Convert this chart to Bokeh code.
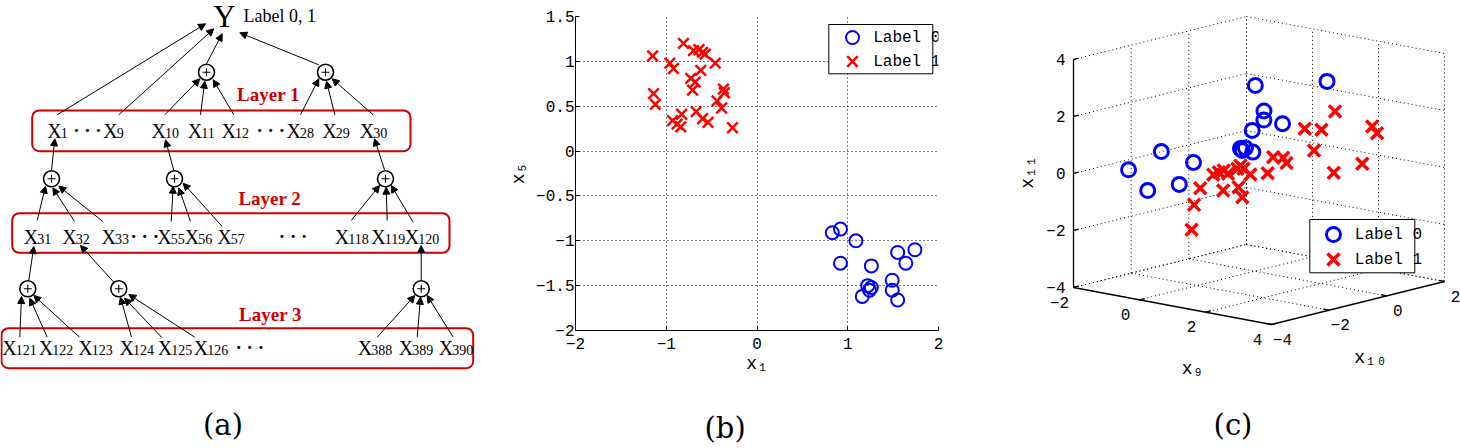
import numpy as np
from bokeh.plotting import figure
from bokeh.layouts import row
from bokeh.models import (Range1d, FixedTicker, ColumnDataSource, Arrow, NormalHead,
                          BoxAnnotation, Label, LabelSet, Title)
from bokeh.embed import file_html
from bokeh.resources import INLINE
from bokeh.core.properties import value

# ------------------------------------------------------------------ data
# panel (b): x1 vs x5
B_LABEL0_X1 = [0.83, 0.92, 1.09, 0.92, 1.55, 1.74, 1.64, 1.26, 1.49, 1.49, 1.55, 1.22, 1.26, 1.24, 1.16]
B_LABEL0_X5 = [-0.91, -0.87, -1.00, -1.25, -1.13, -1.10, -1.25, -1.28, -1.44, -1.55, -1.66, -1.50, -1.52, -1.55, -1.62]
B_LABEL1_X1 = [-1.15, -0.81, -0.96, -0.92, -0.70, -0.64, -0.60, -0.57, -0.46, -0.62, -0.73, -0.68, -0.71, -1.14,
               -1.12, -0.37, -0.36, -0.44, -0.39, -0.93, -0.83, -0.84, -0.88, -0.67, -0.60, -0.54, -0.27]
B_LABEL1_X5 = [1.06, 1.20, 0.98, 0.92, 1.12, 1.13, 1.10, 1.08, 0.98, 0.90, 0.81, 0.77, 0.68, 0.64,
               0.52, 0.69, 0.65, 0.56, 0.48, 0.34, 0.41, 0.27, 0.30, 0.44, 0.36, 0.32, 0.26]
B_XTICKS = [-2, -1, 0, 1, 2]
B_XTICK_LABELS = ["\u22122", "\u22121", "0", "1", "2"]
B_YTICKS = [-2, -1.5, -1, -0.5, 0, 0.5, 1, 1.5]
B_YTICK_LABELS = ["\u22122", "\u22121.5", "\u22121", "\u22120.5", "0", "0.5", "1", "1.5"]
B_XLABEL = "x\u2081"
B_YLABEL = "x\u2085"

# panel (c): x9, x10, x11
C_LABEL0_X9 = [-0.69, -0.38, -0.16, 0.13, 0.36, 1.36, 2.52, 1.50, 1.48, 1.80, 1.31, 1.12, 1.20, 1.32, 1.15]
C_LABEL0_X10 = [-3.59, -3.28, -3.06, -2.77, -2.54, -1.54, -0.38, -1.40, -1.38, -1.10, -1.59, -1.78, -1.70, -1.58, -1.75]
C_LABEL0_X11 = [0.31, -0.43, 0.93, -0.23, 0.53, 3.20, 3.30, 2.30, 1.97, 1.84, 1.62, 0.99, 1.01, 0.86, 0.92]
C_LABEL1_X9 = [-0.37, -0.33, -0.23, -0.02, 0.07, 0.15, 0.22, 0.14, 0.37, 0.42, 0.47, 0.39, 0.45,
               0.58, 0.86, 0.95, 1.11, 1.17, 1.46, 1.73, 1.95, 1.61, 1.93, 2.39, 2.55, 2.63]
C_LABEL1_X10 = [-1.77, -1.73, -1.63, -1.42, -1.33, -1.25, -1.18, -1.26, -1.03, -0.98, -0.93, -1.01, -0.95,
                -0.82, -0.54, -0.45, -0.29, -0.24, 0.06, 0.33, 0.55, 0.21, 0.53, 0.99, 1.15, 1.23]
C_LABEL1_X11 = [-2.18, -1.31, -0.73, -0.26, -0.18, -0.12, -0.24, -0.82, -0.07, 0.04, -0.07, -0.72, -1.07,
                -0.28, -0.24, 0.32, 0.29, 0.11, 1.30, 1.25, 1.89, 0.53, -0.26, 0.04, 1.34, 1.10]
C_X9_TICKS = [-2, 0, 2, 4]
C_X9_LABELS = ["\u22122", "0", "2", "4"]
C_X10_TICKS = [-4, -2, 0, 2]
C_X10_LABELS = ["\u22124", "\u22122", "0", "2"]
C_X11_TICKS = [-4, -2, 0, 2, 4]
C_X11_LABELS = ["\u22124", "\u22122", "0", "2", "4"]
C_XLABEL = "x\u2089"
C_YLABEL = "x\u2081\u2080"
C_ZLABEL = "x\u2081\u2081"

LEGEND_LABELS = ["Label 0", "Label 1"]
CAPTIONS = ["(a)", "(b)", "(c)"]

# panel (a): diagram text
Y_TEXT = "Y"
Y_NOTE = "Label 0, 1"
LAYER_NAMES = ["Layer 1", "Layer 2", "Layer 3"]
ROW1_SUBS = ["1", "...", "9", "10", "11", "12", "...", "28", "29", "30"]
ROW2_SUBS = ["31", "32", "33", "...", "55", "56", "57", "...", "118", "119", "120"]
ROW3_SUBS = ["121", "122", "123", "124", "125", "126", "...", "388", "389", "390"]

# ------------------------------------------------------------------ styles / layout
BLUE = "#0000FF"
RED = "#FF0000"
DARKRED = "#CC0000"
MONO = "Liberation Mono"
SERIF = "Liberation Serif"
CAP_FONT = "DejaVu Serif"
H = 446


def labels(p, xs, ys, texts, font, size, align="left", baseline="alphabetic", color="black", style="normal"):
    src = ColumnDataSource(dict(x=list(xs), y=list(ys), t=list(texts)))
    p.add_layout(LabelSet(x="x", y="y", text="t", source=src, text_font=value(font),
                          text_font_size=size, text_align=align, text_baseline=baseline,
                          text_color=color, text_font_style=style))


# ================================================================== panel (a)
pa = figure(width=500, height=H, x_range=Range1d(0, 500), y_range=Range1d(H, 0),
            output_backend="svg", toolbar_location=None, x_axis_location=None,
            y_axis_location=None, min_border=0, frame_align=False)
pa.outline_line_color = None
pa.grid.visible = False

ROW1_X = [46.7, 72.7, 102.7, 151, 187.3, 221, 256, 286, 321.7, 359.3]
ROW2_X = [23.3, 61.7, 101, 130, 156.7, 184.3, 216.7, 278.3, 334.3, 370.7, 404.3]
ROW3_X = [1.7, 38.3, 77.7, 119, 157.3, 193.3, 235, 357.3, 398.3, 438.3]
ROW_BASE = [137.5, 243.5, 354]
BOXES = [(31.7, 410, 110, 150.7), (11.7, 449, 212.7, 252.3), (1, 472.7, 327.7, 367.7)]
LAYER_POS = [(268, 100), (269.3, 204), (270, 320.7)]
PLUS_X = [206, 325, 51, 174, 385, 27.3, 118.3, 420.7]
PLUS_Y = [71.7, 71.7, 178.3, 178.3, 178.3, 288.3, 288.3, 288.3]
ARROWS = [
    (56.7, 114.3, 205, 23.3), (118.3, 114.3, 213.3, 28.3), (206, 63.3, 221.7, 33.3), (318.3, 64.3, 239.3, 32.3),
    (164.3, 114.3, 199.3, 78.3), (200, 114.3, 204.3, 80.7), (233.3, 114.3, 212.7, 79.3),
    (300, 114.3, 318.3, 78.3), (334.3, 114.3, 326, 80.7), (372.7, 114.3, 331.7, 78.3),
    (51, 170, 54.3, 138.3), (173.3, 170, 165, 139.3), (384, 169.3, 374, 138.3),
    (36.7, 220, 45, 185.7), (74, 221, 52.3, 187.3), (102.3, 221, 58.3, 185.7),
    (170.7, 221, 172.7, 185.7), (190, 221, 178.3, 187.3), (221.7, 226, 182.7, 182.7),
    (350.7, 220, 379, 185), (386.7, 220, 385.7, 186.7), (412.7, 221.7, 390.7, 185),
    (28.3, 280, 33.3, 246), (113.3, 281.7, 80, 245), (420.7, 280, 420.7, 245),
    (19.3, 336.7, 21, 296), (46.7, 336.7, 29.3, 297.7), (79, 336.7, 33.3, 295),
    (131, 336.7, 120, 296.7), (161, 336.7, 124, 297.7), (194.3, 336.7, 128.3, 294),
    (376.7, 336.7, 414.3, 295), (416.7, 336.7, 420, 296.7), (452.7, 336.7, 426.7, 295),
]

for (l, r, t, b) in BOXES:
    pa.add_layout(BoxAnnotation(left=l, right=r, top=t, bottom=b, fill_alpha=0,
                                line_color=DARKRED, line_alpha=1, line_width=2, border_radius=7))

asrc = ColumnDataSource(dict(x0=[a[0] for a in ARROWS], y0=[a[1] for a in ARROWS],
                             x1=[a[2] for a in ARROWS], y1=[a[3] for a in ARROWS]))
pa.add_layout(Arrow(end=NormalHead(size=7, fill_color="black", line_color="black", line_width=1),
                    source=asrc, x_start="x0", y_start="y0", x_end="x1", y_end="y1",
                    line_color="black", line_width=1))

pa.scatter(PLUS_X, PLUS_Y, marker="circle", size=16, fill_color="white",
           line_color="black", line_width=1.6)
pa.scatter(PLUS_X, PLUS_Y, marker="cross", size=8, line_color="black", line_width=1.1)

xx, yx, xsub, ysub, ssub, xdot, ydot = [], [], [], [], [], [], []
for subs, xs, base in zip([ROW1_SUBS, ROW2_SUBS, ROW3_SUBS], [ROW1_X, ROW2_X, ROW3_X], ROW_BASE):
    for s, x in zip(subs, xs):
        if s == "...":
            xdot.append(x)
            ydot.append(base - 1)
        else:
            xx.append(x)
            yx.append(base)
            xsub.append(x + 13.5)
            ysub.append(base)
            ssub.append(s)
labels(pa, xx, yx, ["X"] * len(xx), SERIF, "20px")
labels(pa, xsub, ysub, ssub, SERIF, "14px")
labels(pa, xdot, ydot, ["\u00b7 \u00b7 \u00b7"] * len(xdot), SERIF, "19px", style="bold")
labels(pa, [224], [26.7], [Y_TEXT], SERIF, "31px", align="center")
labels(pa, [243], [21.7], [Y_NOTE], SERIF, "18px")
labels(pa, [p[0] for p in LAYER_POS], [p[1] for p in LAYER_POS], LAYER_NAMES, SERIF, "19px",
       align="center", color=DARKRED, style="bold")
pa.add_layout(Label(x=222.5, y=424.5, text=CAPTIONS[0], text_font=CAP_FONT, text_font_size="29px",
                    text_align="center", text_baseline="middle", text_color="black"))

# ================================================================== panel (b)
B_FW, B_FH = 363, 314
pb = figure(width=475, height=H, x_range=Range1d(-2, 2), y_range=Range1d(-2, 1.5),
            output_backend="svg", toolbar_location=None, frame_align=False,
            min_border_left=75, min_border_right=37, min_border_top=16, min_border_bottom=116)
pb.outline_line_color = None
pb.background_fill_color = "white"
pb.xaxis.ticker = FixedTicker(ticks=B_XTICKS)
pb.yaxis.ticker = FixedTicker(ticks=B_YTICKS)
pb.xgrid.ticker = FixedTicker(ticks=B_XTICKS)
pb.ygrid.ticker = FixedTicker(ticks=B_YTICKS)
pb.xaxis.major_label_overrides = {t: s for t, s in zip(B_XTICKS, B_XTICK_LABELS)}
pb.yaxis.major_label_overrides = {t: s for t, s in zip(B_YTICKS, B_YTICK_LABELS)}
pb.grid.grid_line_color = "black"
pb.grid.grid_line_dash = "1 3"
pb.grid.grid_line_width = 1
pb.axis.axis_line_color = "black"
pb.axis.axis_line_width = 1
pb.axis.major_tick_in = 4
pb.axis.major_tick_out = 0
pb.axis.major_tick_line_color = "black"
pb.axis.minor_tick_line_color = None
pb.axis.major_label_text_font = MONO
pb.axis.major_label_text_font_size = "16px"
pb.axis.major_label_text_color = "black"
pb.xaxis.major_label_standoff = 7
pb.yaxis.major_label_standoff = 1
pb.xaxis.axis_label = B_XLABEL
pb.yaxis.axis_label = B_YLABEL
pb.axis.axis_label_text_font = MONO
pb.axis.axis_label_text_font_size = "18px"
pb.axis.axis_label_text_font_style = "normal"
pb.axis.axis_label_text_color = "black"
pb.xaxis.axis_label_standoff = 2
pb.yaxis.axis_label_standoff = 4

pb.scatter(B_LABEL0_X1, B_LABEL0_X5, marker="circle", size=13, fill_color=None,
           line_color=BLUE, line_width=2)
pb.scatter(B_LABEL1_X1, B_LABEL1_X5, marker="x", size=15, line_color=RED, line_width=2.5)


def bpx(px):  # reference pixel -> panel (b) data
    return -2 + (px - 575) * 4 / B_FW


def bpy(py):
    return 1.5 - (py - 16) * 3.5 / B_FH


pb.quad(left=[bpx(828.3)], right=[bpx(932.3)], top=[bpy(24)], bottom=[bpy(73.3)],
        fill_color="white", line_color="black", line_width=1)
pb.scatter([bpx(852)], [bpy(37)], marker="circle", size=13, fill_color=None, line_color=BLUE, line_width=2)
pb.scatter([bpx(852)], [bpy(61)], marker="x", size=15, line_color=RED, line_width=2.5)
pb.text(x=[bpx(872.7)] * 2, y=[bpy(37), bpy(61)], text=LEGEND_LABELS, text_font=value(MONO),
        text_font_size="16px", text_align="left", text_baseline="middle", text_color="black")
# spacer between the x axis and the caption, then the caption itself
pb.add_layout(Title(text="\u200b", align="left", standoff=0, text_font=CAP_FONT,
                    text_font_size="26px", text_font_style="normal"), "below")
pb.add_layout(Title(text=CAPTIONS[1], align="left", offset=129, standoff=0, text_font=CAP_FONT,
                    text_font_size="29px", text_font_style="normal", text_color="black"), "below")

# ================================================================== panel (c)
pc = figure(width=485, height=H, x_range=Range1d(975, 1460), y_range=Range1d(H, 0),
            output_backend="svg", toolbar_location=None, x_axis_location=None,
            y_axis_location=None, min_border=0, frame_align=False)
pc.outline_line_color = None
pc.grid.visible = False

C_O = (1073.0, 287.0)
C_U = (198.0, 37.0)
C_V = (173.0, -43.0)
C_W = -228.0
A0, A1 = C_X9_TICKS[0], C_X9_TICKS[-1]
B0, B1 = C_X10_TICKS[0], C_X10_TICKS[-1]
Z0, Z1 = C_X11_TICKS[0], C_X11_TICKS[-1]


def proj(a, b, c):
    u = (np.asarray(a, float) - A0) / (A1 - A0)
    v = (np.asarray(b, float) - B0) / (B1 - B0)
    w = (np.asarray(c, float) - Z0) / (Z1 - Z0)
    return C_O[0] + C_U[0] * u + C_V[0] * v, C_O[1] + C_U[1] * u + C_V[1] * v + C_W * w


gx, gy = [], []


def seg(p0, p1, lx=gx, ly=gy):
    sx, sy = proj([p0[0], p1[0]], [p0[1], p1[1]], [p0[2], p1[2]])
    lx.append(list(sx))
    ly.append(list(sy))


for t in C_X9_TICKS:
    if t != A1:
        seg((t, B0, Z0), (t, B1, Z0))
    seg((t, B1, Z0), (t, B1, Z1))
for t in C_X10_TICKS:
    if t != B0:
        seg((A0, t, Z0), (A1, t, Z0))
        seg((A0, t, Z0), (A0, t, Z1))
for t in C_X11_TICKS:
    seg((A0, B0, t), (A0, B1, t))
    seg((A0, B1, t), (A1, B1, t))
pc.multi_line(gx, gy, line_color="black", line_dash="1 3", line_width=1)

ax, ay = [], []
seg((A0, B0, Z0), (A0, B0, Z1), ax, ay)
seg((A0, B0, Z0), (A1, B0, Z0), ax, ay)
seg((A1, B0, Z0), (A1, B1, Z0), ax, ay)
for t in C_X11_TICKS:
    seg((A0, B0, t), (A0, B0 + 0.03 * (B1 - B0), t), ax, ay)
for t in C_X9_TICKS:
    seg((t, B0, Z0), (t, B0 + 0.03 * (B1 - B0), Z0), ax, ay)
for t in C_X10_TICKS:
    seg((A1, t, Z0), (A1 - 0.03 * (A1 - A0), t, Z0), ax, ay)
pc.multi_line(ax, ay, line_color="black", line_width=1.3)

# tick labels
zx, zy = proj([A0] * len(C_X11_TICKS), [B0] * len(C_X11_TICKS), C_X11_TICKS)
labels(pc, zx - 8, zy, C_X11_LABELS, MONO, "16px", align="right", baseline="middle")
ux, uy = proj(C_X9_TICKS, [B0] * len(C_X9_TICKS), [Z0] * len(C_X9_TICKS))
labels(pc, ux - 14, uy + 14.5, C_X9_LABELS, MONO, "16px", align="center", baseline="middle")
vx, vy = proj([A1] * len(C_X10_TICKS), C_X10_TICKS, [Z0] * len(C_X10_TICKS))
labels(pc, vx + 11, vy + 14.5, C_X10_LABELS, MONO, "16px", align="center", baseline="middle")

# axis labels
labels(pc, [1192], [368], [C_XLABEL], MONO, "18px", align="center", baseline="middle")
labels(pc, [1370], [357], [C_YLABEL], MONO, "18px", align="center", baseline="middle")
pc.add_layout(Label(x=1027, y=172, text=C_ZLABEL, angle=90, angle_units="deg", text_font=MONO,
                    text_font_size="18px", text_align="center", text_baseline="middle",
                    text_color="black"))

# data
c0x, c0y = proj(C_LABEL0_X9, C_LABEL0_X10, C_LABEL0_X11)
c1x, c1y = proj(C_LABEL1_X9, C_LABEL1_X10, C_LABEL1_X11)
pc.scatter(list(c0x), list(c0y), marker="circle", size=14, fill_color=None, line_color=BLUE, line_width=3)
pc.scatter(list(c1x), list(c1y), marker="x", size=17, line_color=RED, line_width=3.5)

# legend
pc.quad(left=[1309.3], right=[1414.3], top=[219], bottom=[272.3], fill_color="white",
        line_color="black", line_width=1)
pc.scatter([1333], [234], marker="circle", size=14, fill_color=None, line_color=BLUE, line_width=3)
pc.scatter([1333], [259], marker="x", size=17, line_color=RED, line_width=3.5)
pc.text(x=[1354.3] * 2, y=[234, 259], text=LEGEND_LABELS, text_font=value(MONO), text_font_size="16px",
        text_align="left", text_baseline="middle", text_color="black")
pc.add_layout(Label(x=1232.5, y=424.5, text=CAPTIONS[2], text_font=CAP_FONT, text_font_size="29px",
                    text_align="center", text_baseline="middle", text_color="black"))

layout = row(pa, pb, pc)
open("out.html", "w").write(file_html(layout, INLINE))
